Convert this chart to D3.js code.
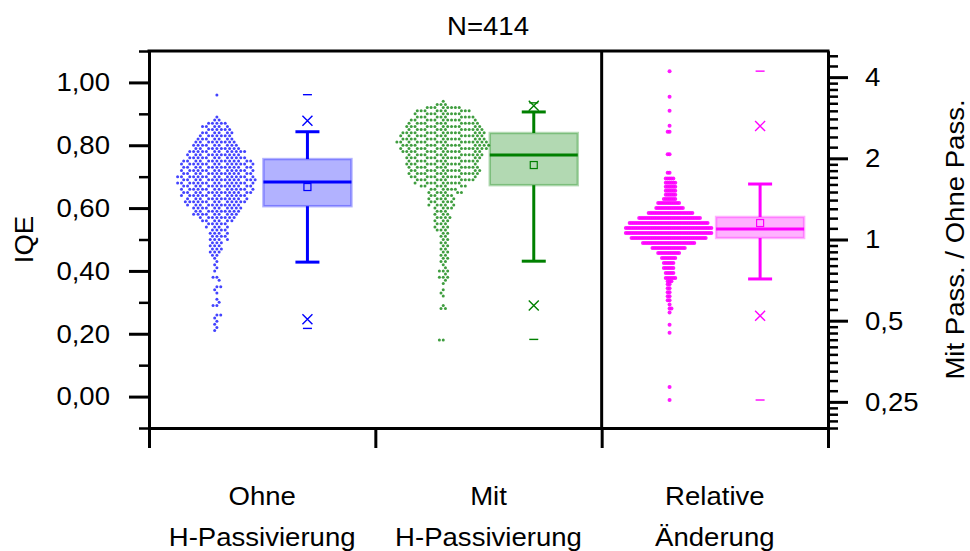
<!DOCTYPE html>
<html>
<head>
<meta charset="utf-8">
<script src="https://cdn.jsdelivr.net/npm/d3@7"></script>
<style>
  body { margin: 0; background: #fff; }
  svg { display: block; }
</style>
</head>
<body>
<div id="chart"></div>
<script>
// data
const title = "N=414";
const categories = [["Ohne", "H-Passivierung"], ["Mit", "H-Passivierung"], ["Relative", "Änderung"]];

// IQE histograms, bins of 0.01 starting at the given value
const ohneStart = 0.21;
const ohneCounts = [1,1,1,1,1,2,0,0,2,1, 1,0,1,1,2,0,1,2,0,1, 1,1,1,1,2,3,3,3,3,4,
  4,4,4,4,5,6,8,9,10,10, 11,13,12,13,14,14,14,15,15,15, 14,14,14,14,14,12,11,12,10,9,
  9,7,7,6,6,5,5,2,1,0, 0,0,0,0,0,1];
const mitStart = 0.18;
const mitCounts = [2,0,0,0,0,0,0,0,0,0, 2,1,0,0,1,1,1,0,1,1, 3,1,3,1,1,2,2,2,2,2,
  2,2,2,2,2,3,3,3,3,4, 3,3,4,5,5,5,5,6,6,7, 9,10,11,12,12,12,12,12,13,13,
  14,15,16,16,15,14,15,13,13,12, 11,10,9,9,8,3,1];

// ratio Mit / Ohne
const relValues = [4.21,3.38,3.00,2.64,2.51,2.07,1.77,1.682,1.625,1.569,1.516,1.464,1.414,
  1.366,1.309,1.254,1.202,1.151,1.103,1.057,1.013,0.971,0.930,0.891,0.854,
  0.818,0.784,0.752,0.720,0.700,0.683,0.660,0.637,0.616,0.595,0.574,0.555,0.536,0.483,0.451,0.284,0.254];
const relCounts = [1,1,1,1,2,2,2,5,6,6,6,6,7,
  12,15,24,33,42,46,46,40,28,18,12,8,
  6,6,5,6,3,2,2,2,2,2,1,2,1,1,1,1,1];

// min, p1, p5, q1, median, q3, p95, p99, max, mean
const ohneStats = [0.217, 0.246, 0.428, 0.606, 0.683, 0.756, 0.843, 0.878, 0.961, 0.667];
const mitStats  = [0.182, 0.290, 0.431, 0.673, 0.769, 0.839, 0.906, 0.926, 0.935, 0.737];
const relStats  = [0.254, 0.521, 0.714, 1.013, 1.094, 1.212, 1.606, 2.635, 4.21, 1.151];

const leftTicks = [0, 0.2, 0.4, 0.6, 0.8, 1.0];
const leftTickLabels = ["0,00", "0,20", "0,40", "0,60", "0,80", "1,00"];
const leftMinor = [-0.1, 0.1, 0.3, 0.5, 0.7, 0.9, 1.1];
const rightTicks = [0.25, 0.5, 1, 2, 4];
const rightTickLabels = ["0,25", "0,5", "1", "2", "4"];

const colors = ["#0000ff", "#008000", "#ff00ff"];
const dotColors = ["#2f2fff", "#2a922a", "#ff00ff"];

const W = 970, H = 551;
const FONT = "'Liberation Sans', Arial, sans-serif";
const FS = 26, SX = 1.06;   // text is a bit wider than plain Arial

const svg = d3.select("#chart").append("svg")
  .attr("width", W).attr("height", H)
  .style("font-family", FONT);

const x = d3.scaleLinear().domain([0, 3]).range([149, 828]);
const yL = d3.scaleLinear().domain([-0.1, 1.1]).range([428, 51]);
const yR = d3.scaleLog().base(2).domain([0.2, 5]).range([428, 51]);

// expand histograms to point lists
function expand(start, counts) {
  const out = [];
  counts.forEach((c, i) => { for (let k = 0; k < c; k++) out.push(+(start + i * 0.01).toFixed(2)); });
  return out;
}
const ohneVals = expand(ohneStart, ohneCounts);
const mitVals = expand(mitStart, mitCounts);
const relVals = [];
relValues.forEach((v, i) => { for (let k = 0; k < relCounts[i]; k++) relVals.push(v); });

// beeswarm: put each point as near to the centre as it can go
function swarm(ys, dc) {
  const placed = [];
  ys.slice().sort((a, b) => a - b).forEach((y, idx) => {
    const near = placed.filter(p => Math.abs(p.y - y) < dc);
    const cands = [0];
    near.forEach(p => {
      const dx = Math.sqrt(dc * dc - (p.y - y) * (p.y - y));
      cands.push(p.x - dx, p.x + dx);
    });
    cands.sort((a, b) => Math.abs(a) - Math.abs(b) || (idx % 2 ? a - b : b - a));
    let px = 0;
    for (const c of cands) {
      if (near.every(p => (p.x - c) ** 2 + (p.y - y) ** 2 >= dc * dc - 1e-6)) { px = c; break; }
    }
    placed.push({x: px, y: y});
  });
  return placed;
}

const colW = x(1) - x(0);
const groups = [
  {vals: ohneVals, stats: ohneStats, y: yL, dc: 3.85, r: 1.5},
  {vals: mitVals, stats: mitStats, y: yL, dc: 3.85, r: 1.5},
  {vals: relVals, stats: relStats, y: yR, dc: 1.9, r: 2.0}
];

groups.forEach((g, i) => {
  const cx = x(i) + colW * 0.30;
  const bx = x(i) + colW * 0.70;
  const bw = 88, cap = 24;
  const col = colors[i];
  const y = g.y;
  const s = g.stats;

  const pts = swarm(g.vals.map(v => y(v)), g.dc);
  svg.append("g").selectAll("circle")
    .data(pts).enter().append("circle")
    .attr("cx", d => cx + d.x)
    .attr("cy", d => d.y)
    .attr("r", g.r)
    .attr("fill", dotColors[i])
    .attr("fill-opacity", 0.9);

  const b = svg.append("g");
  // whiskers
  b.append("line").attr("x1", bx).attr("x2", bx).attr("y1", y(s[5])).attr("y2", y(s[6]))
    .attr("stroke", col).attr("stroke-width", 3);
  b.append("line").attr("x1", bx).attr("x2", bx).attr("y1", y(s[3])).attr("y2", y(s[2]))
    .attr("stroke", col).attr("stroke-width", 3);
  [s[2], s[6]].forEach(v => {
    b.append("line").attr("x1", bx - cap / 2).attr("x2", bx + cap / 2)
      .attr("y1", y(v)).attr("y2", y(v))
      .attr("stroke", col).attr("stroke-width", 3);
  });
  // box
  b.append("rect")
    .attr("x", bx - bw / 2).attr("width", bw)
    .attr("y", y(s[5])).attr("height", y(s[3]) - y(s[5]))
    .attr("fill", col).attr("fill-opacity", 0.3)
    .attr("stroke", col).attr("stroke-opacity", 0.3).attr("stroke-width", 2.5);
  // median
  b.append("line").attr("x1", bx - bw / 2).attr("x2", bx + bw / 2)
    .attr("y1", y(s[4])).attr("y2", y(s[4]))
    .attr("stroke", col).attr("stroke-width", 3);
  // mean
  b.append("rect")
    .attr("x", bx - 3.5).attr("y", y(s[9]) - 3.5).attr("width", 7).attr("height", 7)
    .attr("fill", "none").attr("stroke", col).attr("stroke-width", 1.2);
  // 1% / 99%
  [s[1], s[7]].forEach(v => {
    b.append("path")
      .attr("d", `M${bx - 5},${y(v) - 5}L${bx + 5},${y(v) + 5}M${bx - 5},${y(v) + 5}L${bx + 5},${y(v) - 5}`)
      .attr("stroke", col).attr("stroke-width", 1.4).attr("fill", "none");
  });
  // min / max
  [s[0], s[8]].forEach(v => {
    b.append("line").attr("x1", bx - 4.5).attr("x2", bx + 4.5)
      .attr("y1", y(v)).attr("y2", y(v))
      .attr("stroke", col).attr("stroke-width", 1.4);
  });
});

// axes
function styleAxis(g, w) {
  g.attr("font-family", FONT);
  g.selectAll("path, line").attr("stroke", "#000");
  g.select(".domain").attr("stroke-width", 3);
  g.selectAll(".tick line").attr("stroke-width", w);
  g.selectAll("text").attr("font-size", FS).attr("fill", "#000")
    .each(function () {
      const t = d3.select(this);
      t.attr("x", (+t.attr("x") || 0) / SX).attr("transform", `scale(${SX},1)`);
    });
}

const leftMinorAxis = svg.append("g").attr("transform", `translate(${x(0)},0)`)
  .call(d3.axisLeft(yL).tickValues(leftMinor).tickSize(10).tickSizeOuter(0).tickFormat(""));
styleAxis(leftMinorAxis, 2.5);
const leftAxis = svg.append("g").attr("transform", `translate(${x(0)},0)`)
  .call(d3.axisLeft(yL).tickValues(leftTicks).tickSize(20).tickSizeOuter(0).tickPadding(19)
    .tickFormat((d, i) => leftTickLabels[i]));
styleAxis(leftAxis, 3);

const rightMinor = [];
[0.125, 0.25, 0.5, 1, 2, 4].forEach(b => {
  for (let k = 1; k <= 9; k++) {
    const v = b * (1 + k / 10);
    if (v >= 0.2 && v <= 5) rightMinor.push(v);
  }
});
const rightMinorAxis = svg.append("g").attr("transform", `translate(${x(3)},0)`)
  .call(d3.axisRight(yR).tickValues(rightMinor).tickSize(10).tickSizeOuter(0).tickFormat(""));
styleAxis(rightMinorAxis, 2.5);
const rightAxis = svg.append("g").attr("transform", `translate(${x(3)},0)`)
  .call(d3.axisRight(yR).tickValues(rightTicks).tickSize(20).tickSizeOuter(0).tickPadding(17)
    .tickFormat((d, i) => rightTickLabels[i]));
styleAxis(rightAxis, 3);

const bottomAxis = svg.append("g").attr("transform", `translate(0,${yL(-0.1)})`)
  .call(d3.axisBottom(x).tickValues([0, 1, 2, 3]).tickSize(20).tickSizeOuter(0).tickFormat(""));
styleAxis(bottomAxis, 3);

// top frame and divider
svg.append("line")
  .attr("x1", x(0)).attr("x2", x(3)).attr("y1", yL(1.1)).attr("y2", yL(1.1))
  .attr("stroke", "#000").attr("stroke-width", 3).attr("stroke-linecap", "square");
svg.append("line")
  .attr("x1", x(2)).attr("x2", x(2)).attr("y1", yL(1.1)).attr("y2", yL(-0.1))
  .attr("stroke", "#000").attr("stroke-width", 3);

// category labels
categories.forEach((c, i) => {
  const t = svg.append("text")
    .attr("transform", `translate(${x(i + 0.5)},0) scale(${SX},1)`)
    .attr("text-anchor", "middle")
    .attr("font-size", FS).attr("fill", "#000");
  t.append("tspan").attr("x", 0).attr("y", 505).text(c[0]);
  t.append("tspan").attr("x", 0).attr("y", 546).text(c[1]);
});

// title
svg.append("text")
  .attr("transform", `translate(488,35) scale(${SX},1)`)
  .attr("text-anchor", "middle").attr("font-size", FS)
  .text(title);

// axis titles
svg.append("text")
  .attr("transform", `translate(33,${yL(0.5)}) rotate(-90) scale(${SX},1)`)
  .attr("text-anchor", "middle").attr("font-size", FS)
  .text("IQE");
svg.append("text")
  .attr("transform", `translate(964,${yR(1)}) rotate(-90) scale(${SX},1)`)
  .attr("text-anchor", "middle").attr("font-size", FS)
  .text("Mit Pass. / Ohne Pass.");
</script>
</body>
</html>
